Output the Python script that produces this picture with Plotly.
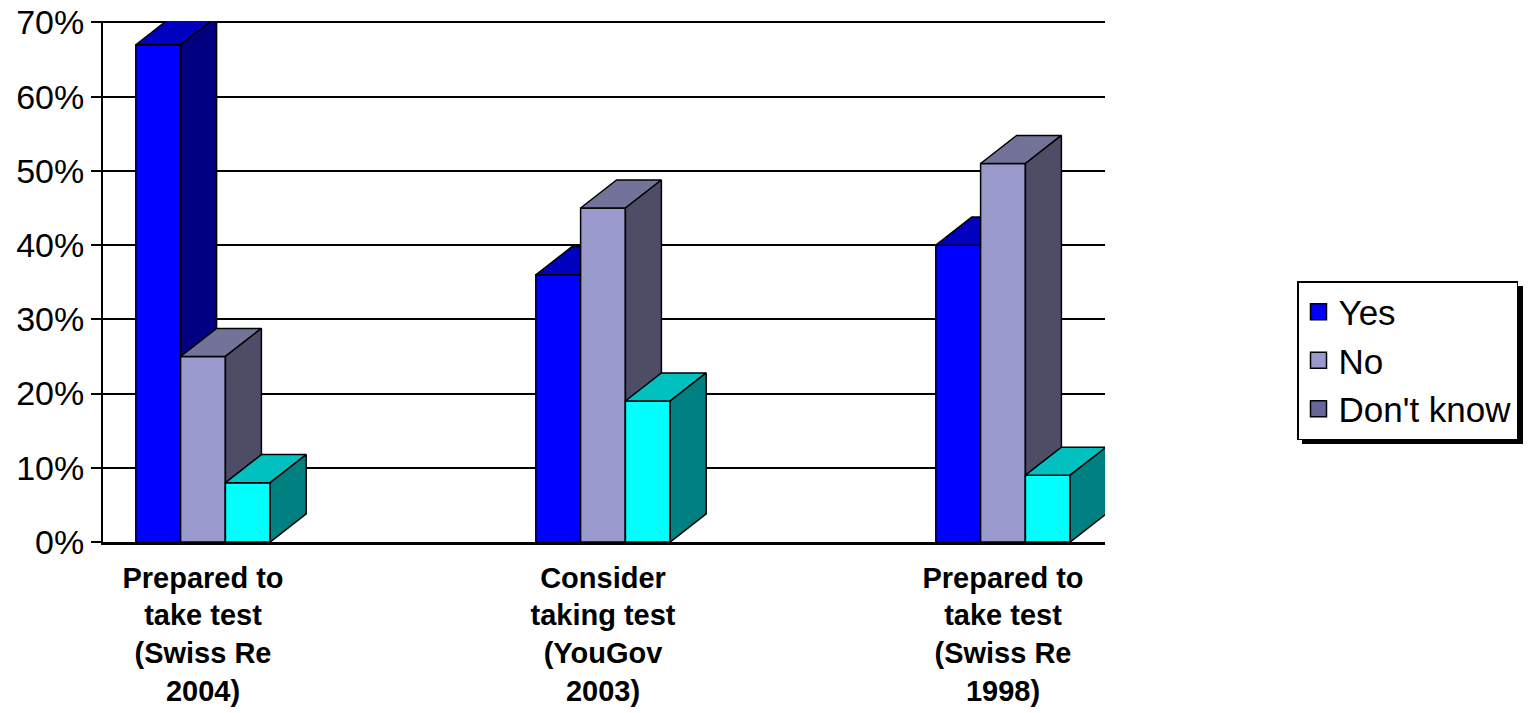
import plotly.graph_objects as go

# Survey results: share of respondents per answer
categories = [
    "Prepared to<br>take test<br>(Swiss Re<br>2004)",
    "Consider<br>taking test<br>(YouGov<br>2003)",
    "Prepared to<br>take test<br>(Swiss Re<br>1998)",
]
series_names = ["Yes", "No", "Don't know"]
yes_values = [67, 36, 40]
no_values = [25, 45, 51]
dont_know_values = [8, 19, 9]
y_ticks = [0, 10, 20, 30, 40, 50, 60, 70]

# Colours: front face, top face, side face, legend swatch
palette = {
    "Yes": ("#0000FF", "#0000C0", "#000080", "#0000FF"),
    "No": ("#9999CC", "#737399", "#4D4D66", "#9999CC"),
    "Don't know": ("#00FFFF", "#00C0C0", "#008080", "#666699"),
}

# Pseudo-3D bar geometry (in axis units)
BAR_W = 0.112      # bar width, category spacing = 1
DEPTH_X = 0.09     # horizontal depth offset
DEPTH_Y = 3.78     # vertical depth offset (percentage points)
EDGE = dict(color="black", width=1.5)

FONT = "Liberation Sans, Arial, sans-serif"

fig = go.Figure()


def add_face(xs, ys, color):
    fig.add_trace(go.Scatter(
        x=xs + [xs[0]], y=ys + [ys[0]], mode="lines", fill="toself",
        fillcolor=color, line=EDGE, showlegend=False, hoverinfo="skip",
        cliponaxis=False,
    ))


all_series = [yes_values, no_values, dont_know_values]
for ci in range(len(categories)):
    for si, (name, values) in enumerate(zip(series_names, all_series)):
        front, top, side, _ = palette[name]
        v = values[ci]
        x0 = ci + (si - 1.5) * BAR_W
        x1 = x0 + BAR_W
        # front face
        add_face([x0, x1, x1, x0], [0, 0, v, v], front)
        # top face
        add_face([x0, x1, x1 + DEPTH_X, x0 + DEPTH_X],
                 [v, v, v + DEPTH_Y, v + DEPTH_Y], top)
        # side face
        add_face([x1, x1 + DEPTH_X, x1 + DEPTH_X, x1],
                 [0, DEPTH_Y, v + DEPTH_Y, v], side)

# Legend entries
for name in series_names:
    fig.add_trace(go.Scatter(
        x=[None], y=[None], mode="markers", name=name,
        marker=dict(symbol="square", size=16, color=palette[name][3],
                    line=dict(color="black", width=1.5)),
        legendgroup=name,
    ))

PLOT_L, PLOT_R, PLOT_T, PLOT_B = 103, 1105, 21, 542
pw, ph = PLOT_R - PLOT_L, PLOT_B - PLOT_T


def px_x(p):
    return (p - PLOT_L) / pw


def px_y(p):
    return (PLOT_B - p) / ph


fig.update_layout(
    width=1535, height=713,
    margin=dict(l=PLOT_L, r=1535 - PLOT_R, t=PLOT_T, b=713 - PLOT_B),
    paper_bgcolor="white", plot_bgcolor="white",
    font=dict(family=FONT, color="black"),
    showlegend=True,
    legend=dict(
        x=px_x(1297), y=px_y(281), xanchor="left", yanchor="top",
        bgcolor="white", bordercolor="black", borderwidth=1.5,
        font=dict(size=35, family=FONT, color="black"),
        tracegroupgap=0, itemclick=False,
    ),
    # drop shadow behind the legend box
    shapes=[dict(
        type="rect", xref="paper", yref="paper",
        x0=px_x(1302), x1=px_x(1523), y0=px_y(444), y1=px_y(286),
        fillcolor="black", line=dict(width=0), layer="above",
    )],
)

fig.update_xaxes(
    range=[-0.25, 2.255], tickmode="array",
    tickvals=list(range(len(categories))),
    ticktext=["<b>" + c + "</b>" for c in categories],
    tickfont=dict(size=29, family=FONT, color="black"),
    showgrid=False, zeroline=False, automargin=False,
    showline=True, linecolor="black", linewidth=2.5,
    ticks="", ticklabelstandoff=8,
)
fig.update_yaxes(
    range=[0, 70.2], tickmode="array", tickvals=y_ticks,
    ticktext=[f"{t}%" for t in y_ticks],
    tickfont=dict(size=34, family=FONT, color="black"),
    showgrid=True, gridcolor="black", gridwidth=2, automargin=False,
    zeroline=False, showline=True, linecolor="black", linewidth=2,
    ticks="outside", ticklen=10, tickwidth=2, tickcolor="black",
)

fig.write_html("out.html")
